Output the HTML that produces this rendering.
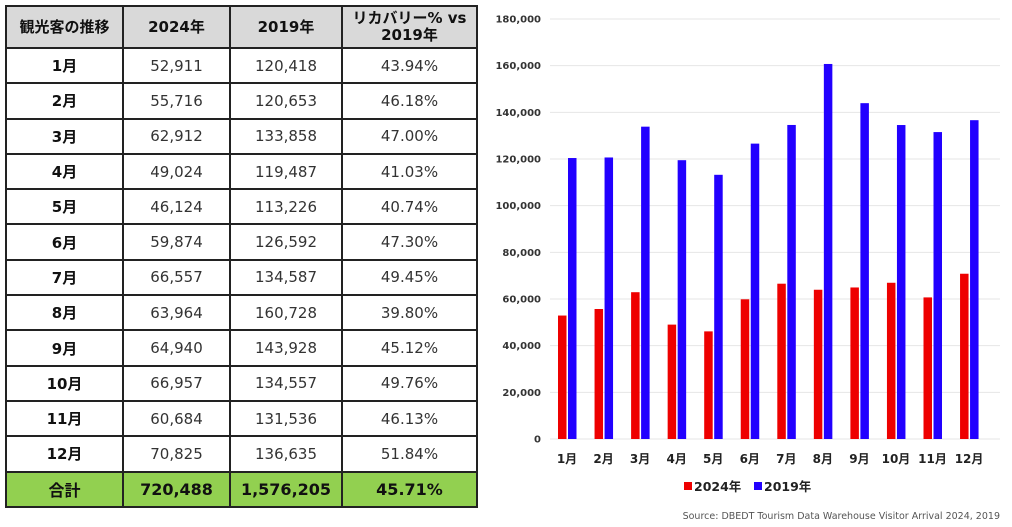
<!DOCTYPE html>
<html><head><meta charset="utf-8"><style>
body{margin:0;width:1012px;height:527px;background:#fff;position:relative;overflow:hidden;font-family:"DejaVu Sans","Noto Sans CJK JP",sans-serif;}
table{position:absolute;left:5px;top:5px;border-collapse:collapse;}
td{border:2px solid #222;text-align:center;font-size:15px;color:#333;height:33.3px;padding:0;}
tr.h td{background:#d9d9d9;font-weight:bold;color:#111;height:40px;font-size:15px;line-height:17px}
td.m{font-weight:bold;color:#111}
tr.t td{background:#92d050;font-weight:bold;color:#111;font-size:16px}
svg{position:absolute;left:0;top:0}
</style></head><body>
<table>
<colgroup><col style="width:117px"><col style="width:107px"><col style="width:112px"><col style="width:135px"></colgroup>
<tr class="h"><td>観光客の推移</td><td>2024年</td><td>2019年</td><td>リカバリー% vs<br>2019年</td></tr>
<tr><td class="m">1月</td><td>52,911</td><td>120,418</td><td>43.94%</td></tr>
<tr><td class="m">2月</td><td>55,716</td><td>120,653</td><td>46.18%</td></tr>
<tr><td class="m">3月</td><td>62,912</td><td>133,858</td><td>47.00%</td></tr>
<tr><td class="m">4月</td><td>49,024</td><td>119,487</td><td>41.03%</td></tr>
<tr><td class="m">5月</td><td>46,124</td><td>113,226</td><td>40.74%</td></tr>
<tr><td class="m">6月</td><td>59,874</td><td>126,592</td><td>47.30%</td></tr>
<tr><td class="m">7月</td><td>66,557</td><td>134,587</td><td>49.45%</td></tr>
<tr><td class="m">8月</td><td>63,964</td><td>160,728</td><td>39.80%</td></tr>
<tr><td class="m">9月</td><td>64,940</td><td>143,928</td><td>45.12%</td></tr>
<tr><td class="m">10月</td><td>66,957</td><td>134,557</td><td>49.76%</td></tr>
<tr><td class="m">11月</td><td>60,684</td><td>131,536</td><td>46.13%</td></tr>
<tr><td class="m">12月</td><td>70,825</td><td>136,635</td><td>51.84%</td></tr>
<tr class="t"><td>合計</td><td>720,488</td><td>1,576,205</td><td>45.71%</td></tr>
</table>
<svg width="1012" height="527" id="c" font-family="DejaVu Sans, Noto Sans CJK JP, sans-serif"></svg>
<script>
var s=document.getElementById('c'),h='';
var a=[52911,55716,62912,49024,46124,59874,66557,63964,64940,66957,60684,70825];
var b=[120418,120653,133858,119487,113226,126592,134587,160728,143928,134557,131536,136635];
function y(v){return 439-v/180000*420;}
for(var i=0;i<=9;i++){var v=i*20000,yy=y(v);
h+='<line x1="550" x2="1000" y1="'+yy+'" y2="'+yy+'" stroke="#e6e6e6" stroke-width="1"/>';
h+='<text x="541" y="'+(yy+3.5)+'" font-size="10" font-weight="bold" fill="#333" text-anchor="end">'+(v?v.toLocaleString('en-US'):'0')+'</text>';}
for(var i=0;i<12;i++){var c=567+i*36.55;
h+='<rect x="'+(c-9)+'" y="'+y(a[i])+'" width="8.5" height="'+(439-y(a[i]))+'" fill="#ee0000"/>';
h+='<rect x="'+(c+1)+'" y="'+y(b[i])+'" width="8.5" height="'+(439-y(b[i]))+'" fill="#2200ff"/>';
h+='<text x="'+c+'" y="463" font-size="12" font-weight="bold" fill="#222" text-anchor="middle">'+(i+1)+'月</text>';}
h+='<rect x="684" y="482" width="8" height="8" fill="#ee0000"/><text x="694" y="491" font-size="12.5" font-weight="bold" fill="#222">2024年</text>';
h+='<rect x="754" y="482" width="8" height="8" fill="#2200ff"/><text x="764" y="491" font-size="12.5" font-weight="bold" fill="#222">2019年</text>';
h+='<text x="1000" y="519" font-size="9.5" fill="#555" text-anchor="end">Source: DBEDT Tourism Data Warehouse Visitor Arrival 2024, 2019</text>';
s.innerHTML=h;
</script>
</body></html>
